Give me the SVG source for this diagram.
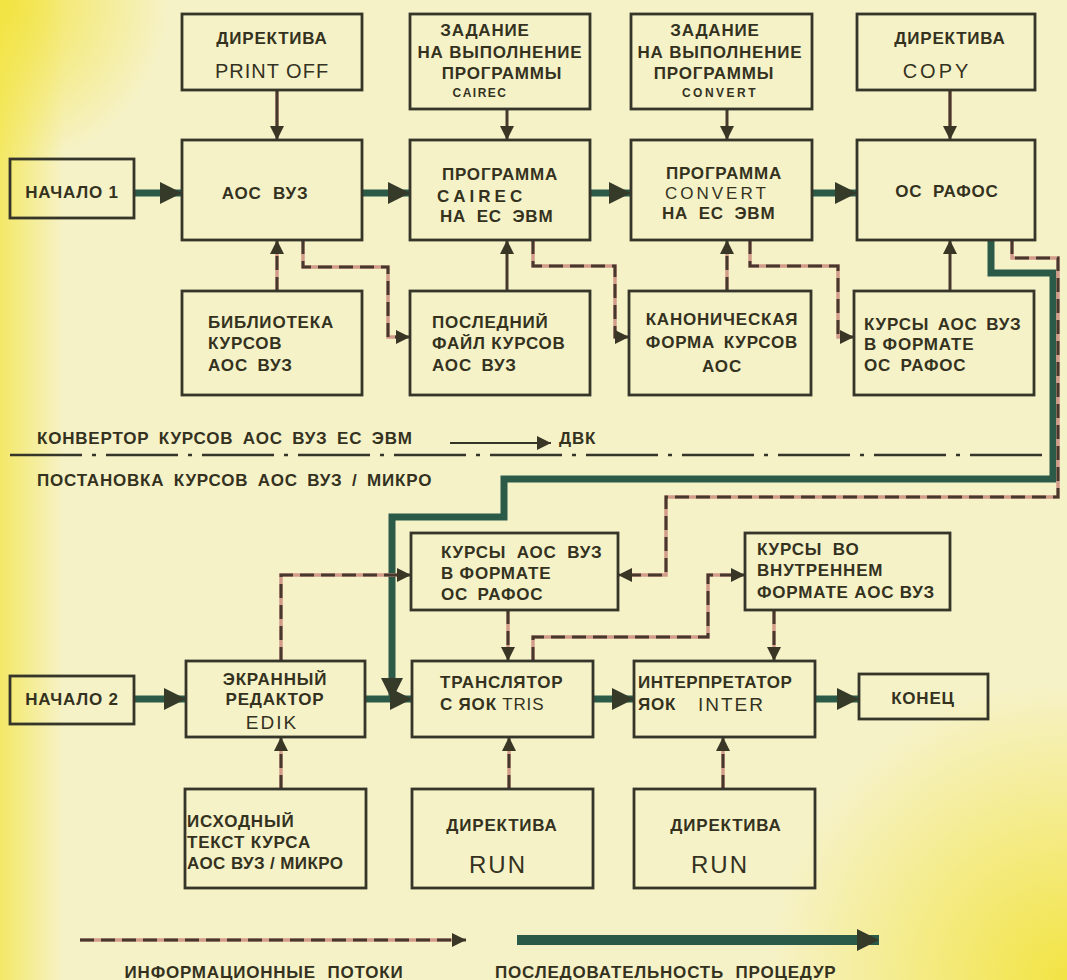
<svg xmlns="http://www.w3.org/2000/svg" width="1067" height="980" viewBox="0 0 1067 980">
<defs>
<linearGradient id="lg" x1="0" y1="0" x2="1" y2="0">
<stop offset="0" stop-color="#f3e64e" stop-opacity="0.8"/>
<stop offset="0.06" stop-color="#f3e64e" stop-opacity="0"/>
</linearGradient>
<radialGradient id="rg" cx="1067" cy="980" r="300" gradientUnits="userSpaceOnUse">
<stop offset="0" stop-color="#f2e33c" stop-opacity="0.95"/>
<stop offset="1" stop-color="#f2e33c" stop-opacity="0"/>
</radialGradient>
<radialGradient id="rg2" cx="0" cy="0" r="170" gradientUnits="userSpaceOnUse">
<stop offset="0" stop-color="#f2e33c" stop-opacity="0.9"/>
<stop offset="1" stop-color="#f2e33c" stop-opacity="0"/>
</radialGradient>
<marker id="ai" markerUnits="userSpaceOnUse" markerWidth="14" markerHeight="14" refX="14" refY="7" orient="auto">
<path d="M0,0 L14,7 L0,14 z" fill="#3a3626"/>
</marker>
<marker id="ap" markerUnits="userSpaceOnUse" markerWidth="22" markerHeight="22" refX="22" refY="11" orient="auto">
<path d="M0,0 L22,11 L0,22 z" fill="#363a28"/>
</marker>
<style>
.box{fill:none;stroke:#36352a;stroke-width:2.8}
.t{font-family:"Liberation Sans",Arial,sans-serif;font-weight:bold;font-size:17px;letter-spacing:0.8px;fill:#34321f}
.m{text-anchor:middle}
.lat{font-weight:normal}
.ib{fill:none;stroke:#d39c8a;stroke-width:3.5}
.id{fill:none;stroke:#46382d;stroke-width:3;stroke-dasharray:14 7}
.is{fill:none;stroke:#46382d;stroke-width:3}
.pr{fill:none;stroke:#2b5a48;stroke-width:7}
</style>
</defs>
<rect x="0" y="0" width="1067" height="980" fill="#f6f2c8"/>
<rect x="0" y="0" width="1067" height="980" fill="url(#lg)"/>
<rect x="0" y="0" width="1067" height="980" fill="url(#rg)"/>
<rect x="0" y="0" width="1067" height="980" fill="url(#rg2)"/>

<g id="connectors">
<line class="pr" x1="134" y1="193" x2="182" y2="193" marker-end="url(#ap)"/>
<line class="pr" x1="362" y1="193" x2="410" y2="193" marker-end="url(#ap)"/>
<line class="pr" x1="590" y1="193" x2="631" y2="193" marker-end="url(#ap)"/>
<line class="pr" x1="812" y1="193" x2="857" y2="193" marker-end="url(#ap)"/>
<polyline class="pr" points="991,240 991,273 1053,273 1053,479 504,479 504,517 392,517 392,700" marker-end="url(#ap)"/>
<line class="pr" x1="134" y1="699" x2="186" y2="699" marker-end="url(#ap)"/>
<line class="pr" x1="365" y1="699" x2="412" y2="699" marker-end="url(#ap)"/>
<line class="pr" x1="593" y1="699" x2="634" y2="699" marker-end="url(#ap)"/>
<line class="pr" x1="815" y1="699" x2="859" y2="699" marker-end="url(#ap)"/>

<g>
<line class="ib" x1="277" y1="90" x2="277" y2="128"/>
<line class="is" x1="277" y1="90" x2="277" y2="140" marker-end="url(#ai)"/>
<line class="is" x1="507" y1="109" x2="507" y2="140" marker-end="url(#ai)"/>
<line class="is" x1="727" y1="109" x2="727" y2="140" marker-end="url(#ai)"/>
<line class="ib" x1="950" y1="90" x2="950" y2="128"/>
<line class="is" x1="950" y1="90" x2="950" y2="140" marker-end="url(#ai)"/>

<line class="ib" x1="277" y1="291" x2="277" y2="252"/>
<line class="id" x1="277" y1="291" x2="277" y2="240" marker-end="url(#ai)"/>
<polyline class="ib" points="303,240 303,267 388,267 388,337 398,337"/>
<polyline class="id" points="303,240 303,267 388,267 388,337 410,337" marker-end="url(#ai)"/>
<line class="is" x1="507" y1="291" x2="507" y2="240" marker-end="url(#ai)"/>
<polyline class="ib" points="533,240 533,266 615,266 615,337 620,337"/>
<polyline class="id" points="533,240 533,266 615,266 615,337 629,337" marker-end="url(#ai)"/>
<line class="ib" x1="727" y1="291" x2="727" y2="252"/>
<line class="id" x1="727" y1="291" x2="727" y2="240" marker-end="url(#ai)"/>
<polyline class="ib" points="750,240 750,266 838,266 838,337 845,337"/>
<polyline class="id" points="750,240 750,266 838,266 838,337 854,337" marker-end="url(#ai)"/>
<line class="is" x1="950" y1="291" x2="950" y2="240" marker-end="url(#ai)"/>

<polyline class="ib" points="1012,240 1012,258 1058,258 1058,497 666,497 666,575 630,575"/>
<polyline class="id" points="1012,240 1012,258 1058,258 1058,497 666,497 666,575 618,575" marker-end="url(#ai)"/>

<polyline class="ib" points="281,661 281,575 400,575"/>
<polyline class="id" points="281,661 281,575 411,575" marker-end="url(#ai)"/>
<line class="ib" x1="508" y1="610" x2="508" y2="648"/>
<line class="id" x1="508" y1="610" x2="508" y2="661" marker-end="url(#ai)"/>
<polyline class="ib" points="533,661 533,637 708,637 708,575 735,575"/>
<polyline class="id" points="533,661 533,637 708,637 708,575 745,575" marker-end="url(#ai)"/>
<line class="ib" x1="774" y1="610" x2="774" y2="648"/>
<line class="id" x1="774" y1="610" x2="774" y2="661" marker-end="url(#ai)"/>

<line class="ib" x1="281" y1="789" x2="281" y2="750"/>
<line class="id" x1="281" y1="789" x2="281" y2="737" marker-end="url(#ai)"/>
<line class="ib" x1="509" y1="789" x2="509" y2="750"/>
<line class="id" x1="509" y1="789" x2="509" y2="737" marker-end="url(#ai)"/>
<line class="ib" x1="723" y1="789" x2="723" y2="750"/>
<line class="id" x1="723" y1="789" x2="723" y2="737" marker-end="url(#ai)"/>
</g>
</g>

<g id="divider">
<line x1="10" y1="455" x2="1046" y2="455" stroke="#36352a" stroke-width="2.5" stroke-dasharray="72 10 4 10"/>
<text class="t" x="37" y="444" word-spacing="4">КОНВЕРТОР КУРСОВ АОС ВУЗ ЕС ЭВМ</text>
<line x1="450" y1="443" x2="551" y2="443" stroke="#36352a" stroke-width="2" marker-end="url(#ai)"/>
<text class="t" x="559" y="444">ДВК</text>
<text class="t" x="37" y="486" word-spacing="4">ПОСТАНОВКА КУРСОВ АОС ВУЗ / МИКРО</text>
</g>

<g id="n-d1"><rect class="box" x="182" y="14" width="180" height="76"/>
<text class="t m" x="272" y="44">ДИРЕКТИВА</text>
<text class="t m lat" x="272" y="78" style="font-size:20px;letter-spacing:1px">PRINT OFF</text></g>

<g id="n-z1"><rect class="box" x="410" y="14" width="180" height="95"/>
<text class="t m" x="485" y="36">ЗАДАНИЕ</text>
<text class="t m" x="500" y="58">НА ВЫПОЛНЕНИЕ</text>
<text class="t m" x="502" y="79">ПРОГРАММЫ</text>
<text class="t m" x="480" y="97" style="font-size:12px;letter-spacing:1.5px">CAIREC</text></g>

<g id="n-z2"><rect class="box" x="631" y="14" width="181" height="95"/>
<text class="t m" x="715" y="36">ЗАДАНИЕ</text>
<text class="t m" x="720" y="58">НА ВЫПОЛНЕНИЕ</text>
<text class="t m" x="714" y="79">ПРОГРАММЫ</text>
<text class="t m" x="720" y="97" style="font-size:12px;letter-spacing:2.5px">CONVERT</text></g>

<g id="n-d2"><rect class="box" x="857" y="14" width="178" height="76"/>
<text class="t m" x="950" y="44">ДИРЕКТИВА</text>
<text class="t m lat" x="937" y="78" style="font-size:20px;letter-spacing:3px">COPY</text></g>

<g id="n-start1"><rect class="box" x="10" y="159" width="124" height="59"/>
<text class="t m" x="72" y="198">НАЧАЛО 1</text></g>

<g id="n-aos"><rect class="box" x="182" y="140" width="180" height="100"/>
<text class="t m" x="265" y="199" word-spacing="6">АОС ВУЗ</text></g>

<g id="n-p1"><rect class="box" x="410" y="140" width="180" height="100"/>
<text class="t m" x="500" y="180">ПРОГРАММА</text>
<text class="t" x="437" y="202" style="font-size:17px;letter-spacing:4px">CAIREC</text>
<text class="t" x="440" y="222" word-spacing="5">НА ЕС ЭВМ</text></g>

<g id="n-p2"><rect class="box" x="631" y="140" width="181" height="100"/>
<text class="t m" x="724" y="179">ПРОГРАММА</text>
<text class="t lat" x="665" y="199" style="font-size:17px;letter-spacing:3px">CONVERT</text>
<text class="t" x="662" y="219" word-spacing="5">НА ЕС ЭВМ</text></g>

<g id="n-rafos"><rect class="box" x="857" y="140" width="178" height="100"/>
<text class="t m" x="947" y="197" word-spacing="5">ОС РАФОС</text></g>

<g id="n-lib"><rect class="box" x="182" y="291" width="180" height="104"/>
<text class="t" x="208" y="328">БИБЛИОТЕКА</text>
<text class="t" x="208" y="349">КУРСОВ</text>
<text class="t" x="208" y="371" word-spacing="4">АОС ВУЗ</text></g>

<g id="n-last"><rect class="box" x="410" y="291" width="180" height="104"/>
<text class="t" x="432" y="328">ПОСЛЕДНИЙ</text>
<text class="t" x="432" y="349">ФАЙЛ КУРСОВ</text>
<text class="t" x="432" y="371" word-spacing="4">АОС ВУЗ</text></g>

<g id="n-canon"><rect class="box" x="629" y="291" width="182" height="104"/>
<text class="t m" x="722" y="325">КАНОНИЧЕСКАЯ</text>
<text class="t m" x="722" y="348" word-spacing="3">ФОРМА КУРСОВ</text>
<text class="t m" x="722" y="372">АОС</text></g>

<g id="n-kr"><rect class="box" x="854" y="291" width="180" height="104"/>
<text class="t" x="864" y="330" word-spacing="3">КУРСЫ АОС ВУЗ</text>
<text class="t" x="864" y="350">В ФОРМАТЕ</text>
<text class="t" x="864" y="371" word-spacing="4">ОС РАФОС</text></g>

<g id="n-kr2"><rect class="box" x="411" y="533" width="207" height="77"/>
<text class="t" x="441" y="558" word-spacing="5">КУРСЫ АОС ВУЗ</text>
<text class="t" x="441" y="579">В ФОРМАТЕ</text>
<text class="t" x="441" y="600" word-spacing="4">ОС РАФОС</text></g>

<g id="n-kv"><rect class="box" x="745" y="533" width="205" height="77"/>
<text class="t" x="757" y="555" word-spacing="5">КУРСЫ ВО</text>
<text class="t" x="757" y="576">ВНУТРЕННЕМ</text>
<text class="t" x="757" y="598">ФОРМАТЕ АОС ВУЗ</text></g>

<g id="n-start2"><rect class="box" x="10" y="676" width="124" height="48"/>
<text class="t m" x="72" y="705">НАЧАЛО 2</text></g>

<g id="n-edik"><rect class="box" x="186" y="661" width="179" height="76"/>
<text class="t m" x="275" y="685">ЭКРАННЫЙ</text>
<text class="t m" x="275" y="705">РЕДАКТОР</text>
<text class="t m lat" x="272" y="729" style="font-size:19px;letter-spacing:2px">EDIK</text></g>

<g id="n-tris"><rect class="box" x="412" y="661" width="181" height="76"/>
<text class="t" x="440" y="688">ТРАНСЛЯТОР</text>
<text class="t" x="440" y="710">С ЯОК <tspan class="lat" style="font-size:17px">TRIS</tspan></text></g>

<g id="n-inter"><rect class="box" x="634" y="661" width="181" height="76"/>
<text class="t" x="638" y="688" style="letter-spacing:0.5px">ИНТЕРПРЕТАТОР</text>
<text class="t" x="638" y="710">ЯОК</text>
<text class="t lat" x="698" y="711" style="font-size:19px;letter-spacing:2px">INTER</text></g>

<g id="n-end"><rect class="box" x="859" y="674" width="129" height="45"/>
<text class="t m" x="923" y="704">КОНЕЦ</text></g>

<g id="n-src"><rect class="box" x="185" y="789" width="181" height="99"/>
<text class="t" x="187" y="827">ИСХОДНЫЙ</text>
<text class="t" x="187" y="848">ТЕКСТ КУРСА</text>
<text class="t" x="187" y="869" style="letter-spacing:0.4px">АОС ВУЗ / МИКРО</text></g>

<g id="n-run1"><rect class="box" x="412" y="789" width="181" height="99"/>
<text class="t m" x="502" y="831">ДИРЕКТИВА</text>
<text class="t m lat" x="498" y="873" style="font-size:24px;letter-spacing:2px">RUN</text></g>

<g id="n-run2"><rect class="box" x="634" y="789" width="181" height="99"/>
<text class="t m" x="726" y="831">ДИРЕКТИВА</text>
<text class="t m lat" x="720" y="873" style="font-size:24px;letter-spacing:2px">RUN</text></g>

<g id="legend">
<line class="ib" x1="80" y1="940" x2="452" y2="940"/>
<line class="id" x1="80" y1="940" x2="466" y2="940" marker-end="url(#ai)"/>
<line x1="517" y1="940" x2="879" y2="940" stroke="#2b5a48" stroke-width="10" marker-end="url(#ap)"/>
<text class="t m" x="264" y="978" word-spacing="6">ИНФОРМАЦИОННЫЕ ПОТОКИ</text>
<text class="t" x="495" y="978" word-spacing="6">ПОСЛЕДОВАТЕЛЬНОСТЬ ПРОЦЕДУР</text>
</g>
</svg>
